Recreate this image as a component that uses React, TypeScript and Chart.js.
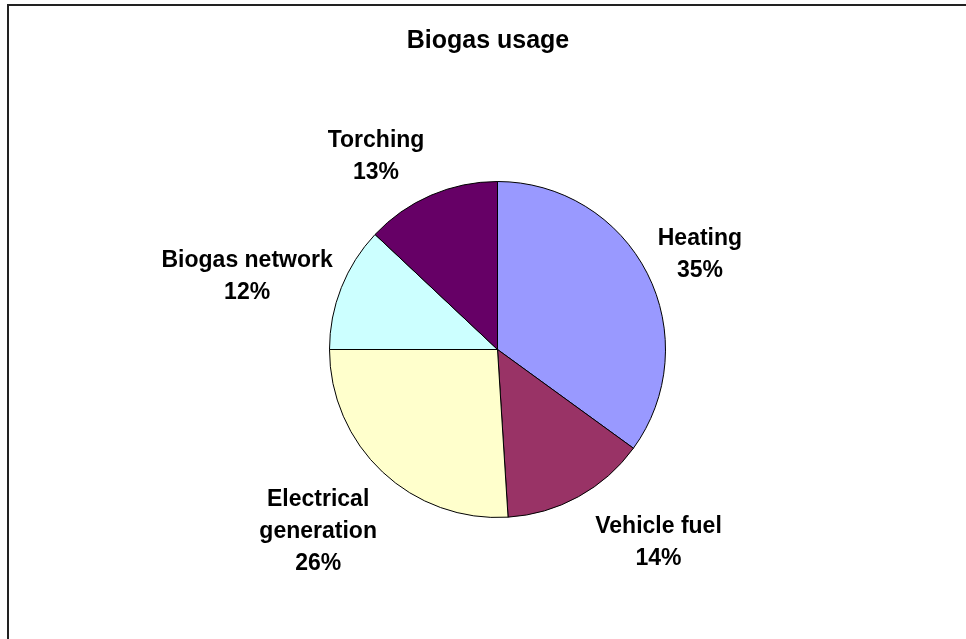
import React, { useEffect, useRef } from "react";
import { Chart, registerables } from "chart.js";

Chart.register(...registerables);

const TITLE = "Biogas usage";
const categories = ["Heating", "Vehicle fuel", "Electrical generation", "Biogas network", "Torching"];
const shares = [35, 14, 26, 12, 13];
const sliceColors = ["#9999FF", "#993366", "#FFFFCC", "#CCFFFF", "#660066"];

const FONT_FAMILY = '"Liberation Sans", Arial, sans-serif';
const LABEL_FONT = `bold 23px ${FONT_FAMILY}`;
const LABEL_LINE = 32;
const LABEL_WRAP = 180;

// Label placement around each slice: distance as a multiple of the radius,
// and a small turn (degrees) from the slice's middle angle.
const labelPlacement = [
  { dist: 1.335, turn: 1.5 },
  { dist: 1.488, turn: -11.3 },
  { dist: 1.515, turn: 1.6 },
  { dist: 1.556, turn: -4.9 },
  { dist: 1.368, turn: -8.5 },
];

function wrapText(ctx: CanvasRenderingContext2D, text: string, maxWidth: number): string[] {
  const words = text.split(" ");
  const lines: string[] = [];
  let current = "";
  for (const w of words) {
    const trial = current ? current + " " + w : w;
    if (current && ctx.measureText(trial).width > maxWidth) {
      lines.push(current);
      current = w;
    } else {
      current = trial;
    }
  }
  if (current) lines.push(current);
  return lines;
}

const framePlugin = {
  id: "frameAndLabels",
  beforeDraw(chart: any) {
    const ctx = chart.ctx as CanvasRenderingContext2D;
    ctx.save();
    ctx.fillStyle = "#ffffff";
    ctx.fillRect(0, 0, chart.width, chart.height);
    ctx.strokeStyle = "#222222";
    ctx.lineWidth = 2;
    ctx.strokeRect(8, 5, chart.width + 20, chart.height + 20);
    ctx.restore();
  },
  afterDatasetsDraw(chart: any) {
    const ctx = chart.ctx as CanvasRenderingContext2D;
    ctx.save();
    // title
    ctx.fillStyle = "#000000";
    ctx.font = `bold 25px ${FONT_FAMILY}`;
    ctx.textAlign = "center";
    ctx.textBaseline = "alphabetic";
    ctx.fillText(TITLE, 488, 48);

    // slice labels
    const meta = chart.getDatasetMeta(0);
    const values: number[] = chart.data.datasets[0].data;
    const total = values.reduce((a, b) => a + b, 0);
    ctx.font = LABEL_FONT;
    const capH = 16.5;
    meta.data.forEach((arc: any, i: number) => {
      const { x, y, startAngle, endAngle, outerRadius } = arc.getProps(
        ["x", "y", "startAngle", "endAngle", "outerRadius"],
        true
      );
      const place = labelPlacement[i];
      const ang = (startAngle + endAngle) / 2 + (place.turn * Math.PI) / 180;
      const cx = x + Math.cos(ang) * outerRadius * place.dist;
      const cy = y + Math.sin(ang) * outerRadius * place.dist;
      const lines = wrapText(ctx, String(chart.data.labels[i]), LABEL_WRAP);
      lines.push(Math.round((values[i] / total) * 100) + "%");
      const blockH = (lines.length - 1) * LABEL_LINE + capH;
      let by = cy - blockH / 2 + capH;
      for (const line of lines) {
        ctx.fillText(line, cx, by);
        by += LABEL_LINE;
      }
    });
    ctx.restore();
  },
};

export default function App() {
  const canvasRef = useRef<HTMLCanvasElement | null>(null);

  useEffect(() => {
    if (!canvasRef.current) return;
    const chart = new Chart(canvasRef.current, {
      type: "pie",
      data: {
        labels: categories,
        datasets: [
          {
            data: shares,
            backgroundColor: sliceColors,
            borderColor: "#000000",
            borderWidth: 1,
          },
        ],
      },
      options: {
        animation: false,
        responsive: true,
        maintainAspectRatio: false,
        layout: { padding: { left: 329, right: 300, top: 181, bottom: 121 } },
        plugins: {
          legend: { display: false },
          tooltip: { enabled: false },
          title: { display: false },
        },
      },
      plugins: [framePlugin],
    });
    return () => chart.destroy();
  }, []);

  return (
    <div style={{ position: "fixed", left: 0, top: 0, width: 966, height: 639, background: "#fff" }}>
      <canvas ref={canvasRef} />
    </div>
  );
}
